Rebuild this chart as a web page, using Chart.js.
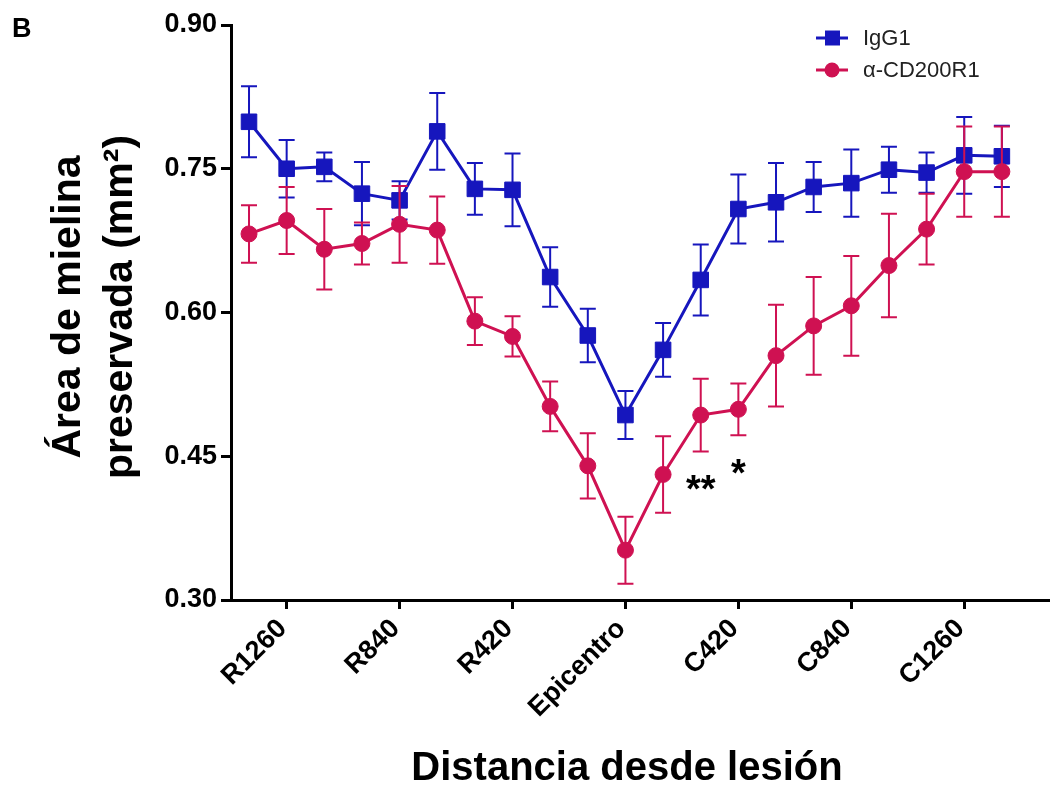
<!DOCTYPE html>
<html>
<head>
<meta charset="utf-8">
<script src="https://cdn.jsdelivr.net/npm/chart.js@4.4.1/dist/chart.umd.min.js"></script>
<style>
  html, body { margin: 0; padding: 0; background: #fff; }
  #wrap { width: 1050px; height: 787px; }
</style>
</head>
<body>
<div id="wrap"><canvas id="chart" width="1050" height="787"></canvas></div>
<script>
// distance from the lesion (µm), negative = rostral, positive = caudal
const distances = [-1400, -1260, -1120, -980, -840, -700, -560, -420, -280, -140, 0,
                   140, 280, 420, 560, 700, 840, 980, 1120, 1260, 1400];
const tickValues = [-1260, -840, -420, 0, 420, 840, 1260];
const tickLabels = ["R1260", "R840", "R420", "Epicentro", "C420", "C840", "C1260"];
const yTicks = [0.30, 0.45, 0.60, 0.75, 0.90];

const seriesNames = ["IgG1", "α-CD200R1"];
const igg1Mean = [0.799, 0.750, 0.752, 0.724, 0.717, 0.789, 0.729, 0.728, 0.637, 0.576, 0.493,
                  0.561, 0.634, 0.708, 0.715, 0.731, 0.735, 0.749, 0.746, 0.764, 0.763];
const igg1Sem = [0.037, 0.030, 0.015, 0.033, 0.020, 0.040, 0.027, 0.038, 0.031, 0.028, 0.025,
                 0.028, 0.037, 0.036, 0.041, 0.026, 0.035, 0.024, 0.021, 0.040, 0.032];
const cd200Mean = [0.682, 0.696, 0.666, 0.672, 0.692, 0.686, 0.591, 0.575, 0.502, 0.440, 0.352,
                   0.431, 0.493, 0.499, 0.555, 0.586, 0.607, 0.649, 0.687, 0.747, 0.747];
const cd200Sem = [0.030, 0.035, 0.042, 0.022, 0.040, 0.035, 0.025, 0.021, 0.026, 0.034, 0.035,
                  0.040, 0.038, 0.027, 0.053, 0.051, 0.052, 0.054, 0.037, 0.047, 0.047];

// significance marks (under the α-CD200R1 points)
const starX = [280, 420];
const starText = ["**", "*"];

const yTitleLines = ["Área de mielina", "preservada (mm²)"];
const xTitle = "Distancia desde lesión";
const panelLetter = "B";

const BLUE = "#1616bd";
const RED = "#cf1152";
const FONT = "'Liberation Sans', Arial, sans-serif";

const toPoints = (arr) => arr.map((v, i) => ({ x: distances[i], y: v }));
const semList = [igg1Sem, cd200Sem];

// error bars drawn just before each dataset
const errorBars = {
  id: "errorBars",
  beforeDatasetDraw(chart, args) {
    const ds = chart.data.datasets[args.index];
    const sem = semList[args.index];
    const yScale = chart.scales.y;
    const ctx = chart.ctx;
    ctx.save();
    ctx.strokeStyle = ds.borderColor;
    ctx.lineWidth = 2;
    args.meta.data.forEach((pt, i) => {
      const m = ds.data[i].y;
      const top = yScale.getPixelForValue(m + sem[i]);
      const bot = yScale.getPixelForValue(m - sem[i]);
      ctx.beginPath();
      ctx.moveTo(pt.x, top); ctx.lineTo(pt.x, bot);
      ctx.moveTo(pt.x - 8, top); ctx.lineTo(pt.x + 8, top);
      ctx.moveTo(pt.x - 8, bot); ctx.lineTo(pt.x + 8, bot);
      ctx.stroke();
    });
    ctx.restore();
  }
};

// titles, legend, panel letter and asterisks
const extras = {
  id: "extras",
  afterDraw(chart) {
    const ctx = chart.ctx;
    const xs = chart.scales.x, ys = chart.scales.y;
    ctx.save();
    ctx.fillStyle = "#000";

    ctx.font = "bold 27px " + FONT;
    ctx.textAlign = "left";
    ctx.textBaseline = "alphabetic";
    ctx.fillText(panelLetter, 12, 37);

    // y title
    ctx.save();
    ctx.font = "bold 41px " + FONT;
    ctx.textAlign = "center";
    ctx.translate(80, 307);
    ctx.rotate(-Math.PI / 2);
    ctx.fillText(yTitleLines[0], 0, 0);
    ctx.fillText(yTitleLines[1], 0, 52);
    ctx.restore();

    // x title
    ctx.font = "bold 40px " + FONT;
    ctx.textAlign = "center";
    ctx.fillText(xTitle, 627, 780);

    // asterisks
    ctx.font = "bold 38px " + FONT;
    starX.forEach((x, k) => {
      const i = distances.indexOf(x);
      const bot = ys.getPixelForValue(cd200Mean[i] - cd200Sem[i]);
      ctx.fillText(starText[k], xs.getPixelForValue(x), bot + 51);
    });

    // legend
    const colors = [BLUE, RED];
    ctx.font = "22px " + FONT;
    ctx.textAlign = "left";
    ctx.textBaseline = "middle";
    seriesNames.forEach((name, k) => {
      const ly = 38 + k * 32;
      ctx.strokeStyle = colors[k];
      ctx.fillStyle = colors[k];
      ctx.lineWidth = 3;
      ctx.beginPath();
      ctx.moveTo(816, ly); ctx.lineTo(848, ly);
      ctx.stroke();
      ctx.beginPath();
      if (k === 0) ctx.rect(825, ly - 7.5, 15, 15);
      else ctx.arc(832, ly, 7.5, 0, Math.PI * 2);
      ctx.fill();
      ctx.fillStyle = "#222";
      ctx.fillText(name, 863, ly + 1);
    });
    ctx.restore();
  }
};

new Chart(document.getElementById("chart"), {
  type: "line",
  data: {
    datasets: [
      {
        label: seriesNames[0],
        data: toPoints(igg1Mean),
        borderColor: BLUE,
        backgroundColor: BLUE,
        borderWidth: 3,
        pointStyle: "rect",
        pointRadius: 11,
        pointBorderWidth: 1,
        tension: 0,
        order: 1
      },
      {
        label: seriesNames[1],
        data: toPoints(cd200Mean),
        borderColor: RED,
        backgroundColor: RED,
        borderWidth: 3,
        pointStyle: "circle",
        pointRadius: 8,
        pointBorderWidth: 1,
        tension: 0,
        order: 0
      }
    ]
  },
  options: {
    responsive: false,
    animation: false,
    devicePixelRatio: 1,
    layout: { autoPadding: false, padding: { top: 25, right: 0, bottom: 0, left: 0 } },
    plugins: { legend: { display: false }, tooltip: { enabled: false } },
    scales: {
      x: {
        type: "linear",
        min: -1467,
        max: 1579,
        afterBuildTicks: (s) => { s.ticks = tickValues.map(v => ({ value: v })); },
        afterFit: (s) => { s.height = 187; s.paddingLeft = 0; s.paddingRight = 0; },
        ticks: {
          autoSkip: false,
          minRotation: 45,
          maxRotation: 45,
          padding: 4,
          labelOffset: -4,
          color: "#000",
          font: { family: FONT, size: 27, weight: "bold" },
          callback: (v, i) => tickLabels[i]
        },
        grid: { drawOnChartArea: false, tickLength: 9, tickWidth: 3, tickColor: "#000" },
        border: { display: true, color: "#000", width: 3 }
      },
      y: {
        min: 0.3,
        max: 0.9,
        afterBuildTicks: (s) => { s.ticks = yTicks.map(v => ({ value: v })); },
        afterFit: (s) => { s.width = 231; s.paddingTop = 0; s.paddingBottom = 0; },
        ticks: {
          padding: 4,
          color: "#000",
          font: { family: FONT, size: 27, weight: "bold" },
          callback: (v) => Number(v).toFixed(2)
        },
        grid: { drawOnChartArea: false, tickLength: 10, tickWidth: 3, tickColor: "#000" },
        border: { display: true, color: "#000", width: 3 }
      }
    }
  },
  plugins: [errorBars, extras]
});
</script>
</body>
</html>
